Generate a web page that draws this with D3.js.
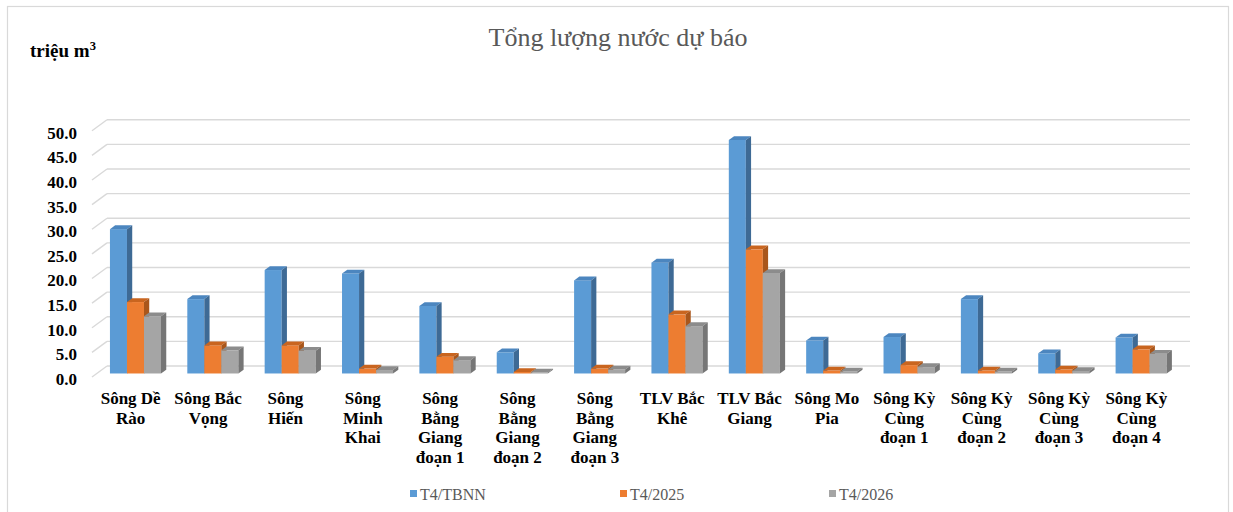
<!DOCTYPE html>
<html>
<head>
<meta charset="utf-8">
<script src="https://cdn.jsdelivr.net/npm/d3@7/dist/d3.min.js"></script>
<style>
  html, body { margin: 0; padding: 0; background: #fff; }
  svg { display: block; }
</style>
</head>
<body>
<svg id="chart" width="1233" height="512"></svg>
<script>
// ---- data ----
const categories = [
  "Sông Dề\nRào", "Sông Bắc\nVọng", "Sông\nHiến", "Sông\nMinh\nKhai",
  "Sông\nBằng\nGiang\nđoạn 1", "Sông\nBằng\nGiang\nđoạn 2", "Sông\nBằng\nGiang\nđoạn 3",
  "TLV Bắc\nKhê", "TLV Bắc\nGiang", "Sông Mo\nPia",
  "Sông Kỳ\nCùng\nđoạn 1", "Sông Kỳ\nCùng\nđoạn 2", "Sông Kỳ\nCùng\nđoạn 3", "Sông Kỳ\nCùng\nđoạn 4"
];
const seriesNames = ["T4/TBNN", "T4/2025", "T4/2026"];
const valuesTBNN = [29.3, 15.1, 21.0, 20.3, 13.7, 4.3, 18.9, 22.5, 47.4, 6.7, 7.4, 15.1, 4.1, 7.3];
const values2025 = [14.5, 5.7, 5.7, 1.0, 3.4, 0.3, 1.0, 12.0, 25.2, 0.6, 1.7, 0.6, 0.8, 4.9];
const values2026 = [11.6, 4.7, 4.6, 0.7, 2.7, 0.2, 0.8, 9.6, 20.4, 0.4, 1.3, 0.4, 0.5, 4.0];
const yTicks = [0, 5, 10, 15, 20, 25, 30, 35, 40, 45, 50];
const titleText = "Tổng lượng nước dự báo";
const yTitle = "triệu m";

const seriesValues = [valuesTBNN, values2025, values2026];
const colors = {
  front: ["#5B9BD5", "#ED7D31", "#A5A5A5"],
  top:   ["#4C86BF", "#C9651F", "#8C8C8C"],
  side:  ["#3E6A95", "#A9561B", "#767676"]
};

const svg = d3.select("#chart");

// frame
svg.append("rect").attr("x", 7.5).attr("y", 6.5).attr("width", 1221).attr("height", 520)
  .attr("fill", "#fff").attr("stroke", "#D9D9D9").attr("stroke-width", 1.2);

// ---- geometry ----
const X0 = 92, X1 = 1175;
const DX = 15, DY = -11;            // wall depth offset
const barOff = 0.32, barDepth = 0.35;

const x = d3.scaleBand().domain(d3.range(categories.length)).range([X0, X1]).paddingInner(0).paddingOuter(0);
const bw = x.bandwidth();
const gpad = bw * 0.17;
const xs = d3.scaleBand().domain(d3.range(seriesNames.length)).range([gpad, bw - gpad]).padding(0);
const y = d3.scaleLinear().domain([0, 50]).range([377, 130.7]);

// gridlines (side wall diagonal + back wall)
const grid = svg.append("g");
yTicks.forEach(t => {
  grid.append("line").attr("x1", X0).attr("y1", y(t)).attr("x2", X0 + DX).attr("y2", y(t) + DY)
    .attr("stroke", "#D9D9D9").attr("stroke-width", 1.4);
  grid.append("line").attr("x1", X0 + DX).attr("y1", y(t) + DY).attr("x2", X1 + DX).attr("y2", y(t) + DY)
    .attr("stroke", "#D9D9D9").attr("stroke-width", 1.4);
});

// y axis labels
const yAxis = d3.axisLeft(y).tickValues(yTicks).tickSize(0).tickPadding(0).tickFormat(d3.format(".1f"));
const ya = svg.append("g").attr("transform", "translate(77,2)").call(yAxis);
ya.select(".domain").remove();
ya.attr("font-family", null).attr("font-size", null);
ya.selectAll("text").attr("font-family", "'Liberation Serif','Times New Roman',serif")
  .attr("font-size", 17).attr("font-weight", "bold").attr("fill", "#000");

// bars
const ox = DX * barOff, oy = DY * barOff;
const ddx = DX * barDepth, ddy = DY * barDepth;
const barsG = svg.append("g");
categories.forEach((c, i) => {
  seriesValues.forEach((vals, s) => {
    const v = vals[i];
    const xl = x(i) + xs(s) + ox;
    const w = xs.bandwidth();
    const yt = y(v) + oy, yb = y(0) + oy;
    const g = barsG.append("g");
    g.append("rect").attr("x", xl).attr("y", yt).attr("width", w).attr("height", yb - yt)
      .attr("fill", colors.front[s]);
    g.append("polygon").attr("points", [
      [xl, yt], [xl + w, yt], [xl + w + ddx, yt + ddy], [xl + ddx, yt + ddy]
    ].map(p => p.join(",")).join(" ")).attr("fill", colors.top[s]);
    g.append("polygon").attr("points", [
      [xl + w, yt], [xl + w + ddx, yt + ddy], [xl + w + ddx, yb + ddy], [xl + w, yb]
    ].map(p => p.join(",")).join(" ")).attr("fill", colors.side[s]);
  });
});

// category labels
const catG = svg.append("g");
categories.forEach((c, i) => {
  const t = catG.append("text")
    .attr("x", x(i) + bw / 2).attr("y", 404)
    .attr("text-anchor", "middle")
    .attr("font-family", "'Liberation Serif','Times New Roman',serif")
    .attr("font-size", 17).attr("font-weight", "bold").attr("fill", "#000");
  c.split("\n").forEach((line, k) => {
    t.append("tspan").attr("x", x(i) + bw / 2).attr("dy", k === 0 ? 0 : 19.5).text(line);
  });
});

// title
svg.append("text").attr("x", 618).attr("y", 46).attr("text-anchor", "middle")
  .attr("font-family", "'Liberation Serif','Times New Roman',serif")
  .attr("font-size", 26).attr("fill", "#595959").text(titleText);

// y title
const ytt = svg.append("text").attr("x", 30).attr("y", 57)
  .attr("font-family", "'Liberation Serif','Times New Roman',serif")
  .attr("font-size", 19).attr("font-weight", "bold").attr("fill", "#000");
ytt.append("tspan").text(yTitle);
ytt.append("tspan").attr("font-size", 12.5).attr("dy", -7).text("3");

// legend
const legendX = [410, 620, 829];
const lg = svg.append("g");
seriesNames.forEach((n, s) => {
  lg.append("rect").attr("x", legendX[s]).attr("y", 490).attr("width", 7).attr("height", 7)
    .attr("fill", colors.front[s]);
  lg.append("text").attr("x", legendX[s] + 10).attr("y", 500)
    .attr("font-family", "'Liberation Serif','Times New Roman',serif")
    .attr("font-size", 16).attr("fill", "#595959").text(n);
});
</script>
</body>
</html>
